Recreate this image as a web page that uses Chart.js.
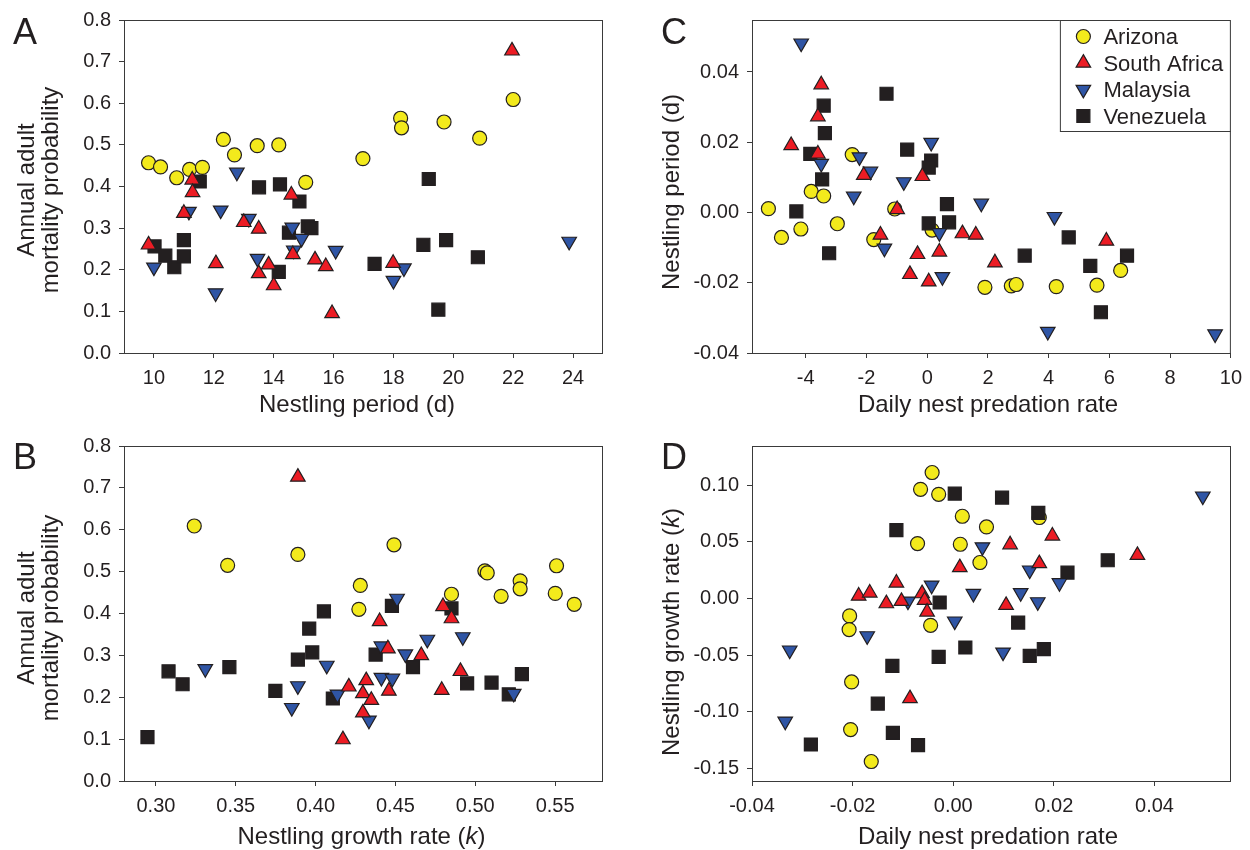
<!DOCTYPE html>
<html>
<head>
<meta charset="utf-8">
<title>Nest predation, growth and adult mortality</title>
<script src="https://cdn.jsdelivr.net/npm/chart.js@4.4.1/dist/chart.umd.min.js"></script>
<style>
  html, body { margin: 0; padding: 0; background: #fff; }
  #wrap { position: relative; width: 1250px; height: 850px; }
  #wrap canvas { position: absolute; }
</style>
</head>
<body>
<div id="wrap">
  <canvas id="panelA" width="625" height="425" style="left:0;top:0"></canvas>
  <canvas id="panelC" width="625" height="425" style="left:625px;top:0"></canvas>
  <canvas id="panelB" width="625" height="425" style="left:0;top:425px"></canvas>
  <canvas id="panelD" width="625" height="425" style="left:625px;top:425px"></canvas>
</div>
<script>
// ---- data: [x, y] per species ----
// Panel A: nestling period (d) vs annual adult mortality
const A_ARIZONA = [[9.82,.457],[10.22,.447],[10.76,.421],[11.19,.441],[11.62,.446],[12.32,.513],[12.69,.476],[13.45,.498],[14.17,.500],[15.07,.410],[16.98,.467],[18.24,.564],[18.27,.541],[19.69,.555],[20.88,.516],[22.0,.609]];
const A_SOUTH_AFRICA = [[9.82,.260],[11.28,.416],[11.29,.386],[11.0,.336],[12.07,.215],[13.0,.314],[13.5,.298],[13.83,.212],[13.5,.191],[14.0,.162],[14.59,.380],[14.64,.237],[15.38,.224],[15.74,.208],[15.95,.095],[21.96,.726],[17.99,.216]];
const A_MALAYSIA = [[10.0,.206],[11.17,.340],[12.06,.144],[12.23,.343],[12.77,.434],[13.17,.323],[13.46,.227],[14.62,.302],[14.93,.275],[14.67,.247],[16.07,.246],[18.35,.204],[18.0,.174],[23.87,.268]];
const A_VENEZUELA = [[10.02,.256],[10.38,.234],[10.68,.206],[11.0,.271],[11.0,.232],[11.53,.412],[13.51,.398],[14.21,.405],[14.86,.364],[14.51,.289],[15.14,.304],[15.26,.300],[14.17,.195],[17.37,.214],[19.18,.418],[19.0,.260],[19.76,.271],[20.82,.230],[19.5,.104]];

// Panel B: nestling growth rate (k) vs annual adult mortality
const B_ARIZONA = [[.3240,.609],[.3449,.515],[.3889,.541],[.4280,.467],[.4271,.410],[.4491,.564],[.4851,.446],[.5060,.502],[.5075,.497],[.5162,.441],[.5281,.478],[.5281,.459],[.5509,.514],[.5501,.448],[.5620,.422]];
const B_SOUTH_AFRICA = [[.3889,.726],[.4171,.099],[.4208,.225],[.4317,.240],[.4296,.209],[.4349,.193],[.4296,.163],[.4401,.381],[.4453,.316],[.4459,.215],[.4662,.300],[.4798,.417],[.4851,.388],[.4907,.262],[.4790,.217]];
const B_MALAYSIA = [[.3309,.268],[.3889,.227],[.3851,.175],[.4070,.276],[.4137,.207],[.4334,.145],[.4510,.436],[.4412,.322],[.4562,.303],[.4700,.338],[.4922,.344],[.4412,.247],[.4481,.245],[.5241,.209]];
const B_VENEZUELA = [[.2947,.105],[.3079,.262],[.3167,.231],[.3460,.272],[.3748,.215],[.3889,.290],[.3979,.307],[.3960,.364],[.4052,.405],[.4108,.197],[.4478,.418],[.4376,.302],[.4610,.272],[.4851,.412],[.4949,.233],[.5102,.235],[.5292,.255],[.5210,.207]];

// Panel C: daily nest predation rate vs nestling period (residuals)
const C_ARIZONA = [[-5.23,.0011],[-4.80,-.0071],[-4.16,-.0047],[-3.82,.0060],[-3.41,.0047],[-2.96,-.0032],[-2.47,.0165],[-1.76,-.0077],[-1.07,.0010],[0.16,-.0050],[1.90,-.0213],[2.77,-.0209],[2.93,-.0205],[4.25,-.0211],[5.59,-.0207],[6.37,-.0165]];
const C_SOUTH_AFRICA = [[-3.49,.0364],[-3.60,.0273],[-4.48,.0191],[-3.60,.0167],[-2.09,.0106],[-0.99,.0009],[-0.16,.0103],[-1.54,-.0064],[-0.32,-.0119],[-0.57,-.0176],[0.05,-.0197],[0.40,-.0112],[1.16,-.0060],[1.60,-.0064],[2.23,-.0143],[5.90,-.0081]];
const C_MALAYSIA = [[-4.15,.0482],[-3.49,.0139],[-2.23,.0158],[-1.87,.0117],[-2.42,.0046],[-0.77,.0087],[0.13,.0199],[-1.41,-.0102],[0.40,-.0058],[0.50,-.0183],[1.78,.0026],[4.19,-.0012],[3.97,-.0339],[9.48,-.0346]];
const C_VENEZUELA = [[-3.41,.0304],[-3.37,.0226],[-3.85,.0167],[-3.46,.0094],[-4.31,.0003],[-3.23,-.0116],[-1.34,.0338],[-0.66,.0179],[0.13,.0148],[0.05,.0128],[0.65,.0024],[0.05,-.0031],[0.72,-.0028],[3.21,-.0123],[4.66,-.0071],[5.37,-.0152],[6.58,-.0123],[5.72,-.0284]];

// Panel D: daily nest predation rate vs nestling growth rate (residuals)
const D_ARIZONA = [[-0.0042,.1112],[-0.0065,.0964],[-0.0029,.0920],[0.0018,.0726],[0.0066,.0632],[-0.0071,.0485],[0.0014,.0479],[0.0053,.0318],[-0.0206,-.0153],[-0.0207,-.0274],[-0.0045,-.0236],[-0.0202,-.0736],[-0.0204,-.1156],[-0.0163,-.1438],[0.0171,.0715]];
const D_SOUTH_AFRICA = [[-0.0113,.0138],[-0.0188,.0023],[-0.0166,.0050],[-0.0133,-.0044],[-0.0103,-.0024],[-0.0062,.0044],[-0.0057,-.0015],[-0.0052,-.0118],[0.0013,.0274],[-0.0086,-.0882],[0.0113,.0476],[0.0197,.0553],[0.0171,.0309],[0.0105,-.0059],[0.0366,.0382]];
const D_MALAYSIA = [[-0.0325,-.0456],[-0.0334,-.1083],[-0.0171,-.0330],[-0.0090,-.0024],[-0.0043,.0117],[0.0003,-.0200],[0.0040,.0044],[0.0058,.0455],[0.0099,-.0474],[0.0152,.0250],[0.0211,.0138],[0.0134,.0050],[0.0168,-.0030],[0.0496,.0903]];
const D_VENEZUELA = [[0.0003,.0926],[-0.0113,.0603],[-0.0027,-.0035],[0.0024,-.0432],[-0.0029,-.0515],[-0.0121,-.0594],[-0.0150,-.0927],[-0.0120,-.1186],[-0.0070,-.1294],[-0.0283,-.1288],[0.0097,.0891],[0.0169,.0755],[0.0227,.0229],[0.0307,.0338],[0.0129,-.0212],[0.0152,-.0506],[0.0180,-.0447]];

// tick values
const PERIOD_TICKS = [10, 12, 14, 16, 18, 20, 22, 24];
const GROWTH_TICKS = [0.30, 0.35, 0.40, 0.45, 0.50, 0.55];
const MORTALITY_TICKS = [0, 0.1, 0.2, 0.3, 0.4, 0.5, 0.6, 0.7, 0.8];
const PREDATION_C_TICKS = [-4, -2, 0, 2, 4, 6, 8, 10];
const PERIOD_RES_TICKS = [-0.04, -0.02, 0, 0.02, 0.04];
const PREDATION_D_TICKS = [-0.04, -0.02, 0, 0.02, 0.04];
const GROWTH_RES_TICKS = [-0.15, -0.10, -0.05, 0, 0.05, 0.10];

const SPECIES = ['Arizona', 'South Africa', 'Malaysia', 'Venezuela'];

// ---- styling ----
const FONT = '"Liberation Sans", Arial, Helvetica, sans-serif';
const INK = '#231f20';
const AXIS = '#3a3a3a';
const TITLE_SIZE = 24;
const W = 625, H = 425;

// marker style per species (order: higher = drawn further back)
const MARKERS = [
  {fill: '#f3ea1c', style: 'circle', rot: 0, r: 7, order: 4},
  {fill: '#ec1c24', style: 'triangle', rot: 0, r: 8.4, order: 1},
  {fill: '#2f55a5', style: 'triangle', rot: 180, r: 8.4, order: 2},
  {fill: '#231f20', style: 'rect', rot: 0, r: 9.2, order: 3}
];

function drawRich(ctx, segs, x, y, rot) {
  ctx.save();
  ctx.translate(x, y);
  ctx.rotate(rot);
  ctx.textBaseline = 'middle';
  ctx.textAlign = 'left';
  ctx.fillStyle = INK;
  const fonts = segs.map(s => (s.i ? 'italic ' : '') + TITLE_SIZE + 'px ' + FONT);
  let total = 0;
  segs.forEach((s, k) => { ctx.font = fonts[k]; total += ctx.measureText(s.t).width; });
  let cx = -total / 2;
  segs.forEach((s, k) => {
    ctx.font = fonts[k];
    ctx.fillText(s.t, cx, 0);
    cx += ctx.measureText(s.t).width;
  });
  ctx.restore();
}

// frame, axis titles, panel letter and the legend of panel C
const panelDecor = {
  id: 'panelDecor',
  afterDraw(chart, args, o) {
    const {ctx, chartArea: a} = chart;
    ctx.save();
    ctx.strokeStyle = AXIS;
    ctx.lineWidth = 1;
    ctx.strokeRect(a.left + 0.5, a.top + 0.5, a.right - a.left - 1, a.bottom - a.top);

    drawRich(ctx, o.xTitle, o.xTitleX, o.xTitleY, 0);
    o.yTitle.forEach((line, i) => drawRich(ctx, line, o.yTitleX + i * TITLE_SIZE, o.yTitleY, -Math.PI / 2));

    ctx.fillStyle = INK;
    ctx.font = '36px ' + FONT;
    ctx.textBaseline = 'alphabetic';
    ctx.textAlign = 'left';
    ctx.fillText(o.letter, o.letterX, 44);

    if (o.legend) {
      const bw = 171, bh = 111;
      const bx = a.right - bw, by = a.top;
      ctx.fillStyle = '#fff';
      ctx.fillRect(bx, by, bw, bh);
      ctx.strokeRect(bx + 0.5, by + 0.5, bw - 1, bh);
      ctx.font = '22px ' + FONT;
      chart.data.datasets
        .slice()
        .sort((p, q) => SPECIES.indexOf(p.label) - SPECIES.indexOf(q.label))
        .forEach((ds, i) => {
          const cy = by + 16.5 + i * 26.5;
          ctx.fillStyle = ds.backgroundColor;
          ctx.strokeStyle = ds.borderColor;
          ctx.lineWidth = ds.borderWidth;
          Chart.helpers.drawPoint(ctx, {
            pointStyle: ds.pointStyle, rotation: ds.pointRotation,
            radius: ds.pointRadius, borderWidth: ds.borderWidth
          }, bx + 23.5, cy);
          ctx.fillStyle = INK;
          ctx.fillText(ds.label, bx + 43.5, cy + 7.9);
        });
    }
    ctx.restore();
  }
};

function axis(cfg, fit) {
  return {
    type: 'linear',
    min: cfg.min,
    max: cfg.max,
    afterBuildTicks: s => { s.ticks = cfg.ticks.map(v => ({value: v})); },
    afterFit: fit,
    grid: {drawOnChartArea: false, drawTicks: true, tickLength: 5, color: AXIS, lineWidth: 1},
    border: {display: false},
    ticks: {
      font: {family: FONT, size: 20},
      color: INK,
      padding: 8,
      autoSkip: false,
      maxRotation: 0,
      callback: v => v.toFixed(cfg.dec)
    }
  };
}

function makePanel(id, p) {
  const datasets = p.series.map((pts, i) => ({
    label: SPECIES[i],
    data: pts.map(([x, y]) => ({x, y})),
    order: MARKERS[i].order,
    backgroundColor: MARKERS[i].fill,
    borderColor: INK,
    borderWidth: 1.2,
    pointStyle: MARKERS[i].style,
    pointRotation: MARKERS[i].rot,
    pointRadius: MARKERS[i].r,
    pointHoverRadius: MARKERS[i].r
  }));
  new Chart(document.getElementById(id), {
    type: 'scatter',
    data: {datasets},
    options: {
      responsive: false,
      animation: false,
      devicePixelRatio: 1,
      events: [],
      layout: {padding: {left: 0, top: p.area.t, right: W - p.area.r, bottom: 0}},
      scales: {
        x: axis(p.x, s => { s.height = H - p.area.b; }),
        y: axis(p.y, s => { s.width = p.area.l; })
      },
      plugins: {
        legend: {display: false},
        tooltip: {enabled: false},
        panelDecor: p.decor
      }
    },
    plugins: [panelDecor]
  });
}

const MORTALITY_TITLE = [[{t: 'Annual adult'}], [{t: 'mortality probability'}]];
const PREDATION_TITLE = [{t: 'Daily nest predation rate'}];

makePanel('panelA', {
  series: [A_ARIZONA, A_SOUTH_AFRICA, A_MALAYSIA, A_VENEZUELA],
  area: {l: 124, t: 19, r: 603, b: 353},
  x: {min: 9, max: 25, ticks: PERIOD_TICKS, dec: 0},
  y: {min: 0, max: 0.8, ticks: MORTALITY_TICKS, dec: 1},
  decor: {letter: 'A', letterX: 13,
    xTitle: [{t: 'Nestling period (d)'}], xTitleX: 357, xTitleY: 405.6,
    yTitle: MORTALITY_TITLE, yTitleX: 27.7, yTitleY: 190, legend: false}
});

makePanel('panelB', {
  series: [B_ARIZONA, B_SOUTH_AFRICA, B_MALAYSIA, B_VENEZUELA],
  area: {l: 124, t: 21, r: 603, b: 356},
  x: {min: 0.28, max: 0.58, ticks: GROWTH_TICKS, dec: 2},
  y: {min: 0, max: 0.8, ticks: MORTALITY_TICKS, dec: 1},
  decor: {letter: 'B', letterX: 13,
    xTitle: [{t: 'Nestling growth rate ('}, {t: 'k', i: true}, {t: ')'}], xTitleX: 361.5, xTitleY: 411.9,
    yTitle: MORTALITY_TITLE, yTitleX: 27.7, yTitleY: 193, legend: false}
});

makePanel('panelC', {
  series: [C_ARIZONA, C_SOUTH_AFRICA, C_MALAYSIA, C_VENEZUELA],
  area: {l: 127, t: 19, r: 606, b: 353},
  x: {min: -5.77, max: 10, ticks: PREDATION_C_TICKS, dec: 0},
  y: {min: -0.04, max: 0.0548, ticks: PERIOD_RES_TICKS, dec: 2},
  decor: {letter: 'C', letterX: 36,
    xTitle: PREDATION_TITLE, xTitleX: 363, xTitleY: 405.6,
    yTitle: [[{t: 'Nestling period (d)'}]], yTitleX: 47, yTitleY: 192, legend: true}
});

makePanel('panelD', {
  series: [D_ARIZONA, D_SOUTH_AFRICA, D_MALAYSIA, D_VENEZUELA],
  area: {l: 127, t: 21, r: 606, b: 356},
  x: {min: -0.04, max: 0.0552, ticks: PREDATION_D_TICKS, dec: 2},
  y: {min: -0.161, max: 0.1346, ticks: GROWTH_RES_TICKS, dec: 2},
  decor: {letter: 'D', letterX: 36,
    xTitle: PREDATION_TITLE, xTitleX: 363, xTitleY: 411.9,
    yTitle: [[{t: 'Nestling growth rate ('}, {t: 'k', i: true}, {t: ')'}]], yTitleX: 47, yTitleY: 207, legend: false}
});
</script>
</body>
</html>
